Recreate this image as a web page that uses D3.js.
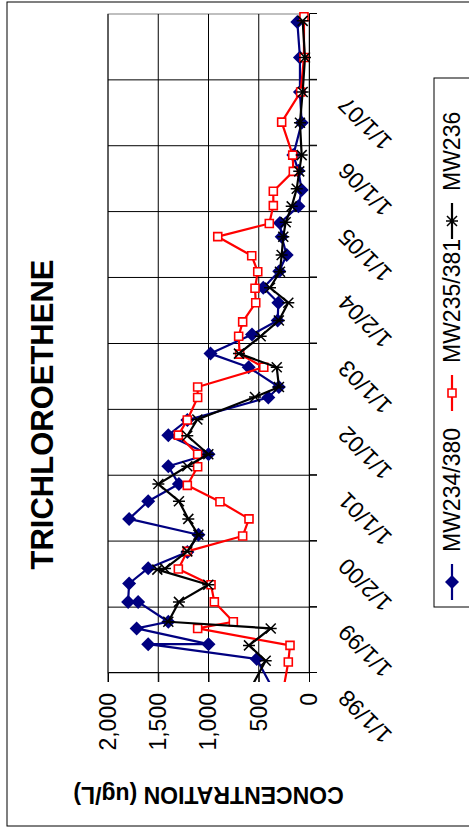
<!DOCTYPE html>
<html>
<head>
<meta charset="utf-8">
<script src="https://cdn.jsdelivr.net/npm/d3@7"></script>
<style>
  body { margin: 0; background: #fff; }
  svg { display: block; }
</style>
</head>
<body>
<svg width="469" height="829"></svg>
<script>
const dateTicks = ['1/1/98', '1/1/99', '1/2/00', '1/1/01', '1/1/02', '1/1/03', '1/2/04', '1/1/05', '1/1/06', '1/1/07']
const dateMax = '1/1/08'
const valueTicks = [0, 500, 1000, 1500, 2000]
const seriesNames = ['MW234/380', 'MW235/381', 'MW236']

const mw234 = [
  ['1997-10-08', 363], ['1998-03-20', 520], ['1998-06-10', 1600], ['1998-06-10', 1000],
  ['1998-09-05', 1715], ['1998-10-12', 1400], ['1999-01-30', 1700], ['1999-01-30', 1800],
  ['1999-05-12', 1790], ['1999-08-05', 1600], ['1999-11-03', 1210], ['2000-02-06', 1100],
  ['2000-05-04', 1790], ['2000-08-10', 1600], ['2000-11-13', 1295], ['2001-02-20', 1400],
  ['2001-04-27', 1000], ['2001-08-11', 1400], ['2001-11-03', 1210], ['2002-03-08', 405],
  ['2002-05-05', 300], ['2002-08-22', 600], ['2002-11-06', 980], ['2003-02-20', 567],
  ['2003-05-08', 312], ['2003-08-15', 305], ['2003-11-06', 455], ['2004-02-06', 296],
  ['2004-05-05', 222], ['2004-08-15', 272], ['2004-10-30', 289], ['2005-01-30', 105],
  ['2005-05-01', 73], ['2005-08-15', 106], ['2005-11-10', 156], ['2006-05-08', 73],
  ['2006-10-26', 90], ['2007-05-05', 90], ['2007-11-17', 116]
]
const mw235 = [
  ['1997-10-08', 253], ['1998-03-03', 206], ['1998-06-03', 189], ['1998-09-05', 1108],
  ['1998-10-12', 753], ['1999-01-30', 942], ['1999-05-05', 975], ['1999-07-31', 1300],
  ['1999-11-06', 1211], ['2000-01-30', 660], ['2000-05-04', 597], ['2000-08-07', 886],
  ['2000-11-06', 1211], ['2001-02-17', 1108], ['2001-04-27', 1108], ['2001-08-11', 1300],
  ['2001-11-03', 1211], ['2002-03-08', 1108], ['2002-05-05', 1108], ['2002-08-22', 450],
  ['2002-11-03', 690], ['2003-02-10', 700], ['2003-05-01', 660], ['2003-08-15', 530],
  ['2003-11-03', 537], ['2004-02-03', 510], ['2004-05-01', 570], ['2004-08-15', 908],
  ['2004-10-27', 395], ['2005-02-03', 355], ['2005-04-24', 355], ['2005-08-12', 156],
  ['2005-11-10', 162], ['2006-05-12', 272], ['2006-10-26', 83], ['2007-05-05', 50],
  ['2007-12-17', 50]
]
const mw236 = [
  ['1997-10-08', 580], ['1998-03-10', 431], ['1998-06-03', 597], ['1998-09-05', 381],
  ['1998-10-12', 1400], ['1999-01-30', 1294], ['1999-05-05', 1002], ['1999-07-28', 1509],
  ['1999-08-03', 1433], ['1999-11-06', 1211], ['2000-02-06', 1101], ['2000-05-04', 1201],
  ['2000-08-10', 1294], ['2000-11-13', 1499], ['2001-02-20', 1211], ['2001-04-27', 1002],
  ['2001-08-08', 1211], ['2001-11-06', 1111], ['2002-03-10', 537], ['2002-05-05', 299],
  ['2002-08-22', 321], ['2002-11-06', 697], ['2003-02-10', 481], ['2003-05-08', 300],
  ['2003-08-15', 206], ['2003-11-06', 388], ['2004-02-03', 289], ['2004-05-05', 272],
  ['2004-08-15', 256], ['2004-11-03', 232], ['2005-01-30', 172], ['2005-05-08', 122],
  ['2005-08-12', 97], ['2005-11-10', 73], ['2006-05-08', 90], ['2006-10-26', 63],
  ['2007-05-05', 40], ['2007-11-24', 63]
]

const font = "'Liberation Sans', Arial, sans-serif"
// the chart is drawn landscape (829 x 469) and turned a quarter to the left
const W = 829
const plot = {left: 156, right: 815, top: 108, bottom: 309}

const parseTick = d3.timeParse('%m/%d/%y')
const parseDate = d3.timeParse('%Y-%m-%d')
const tickDates = dateTicks.map(parseTick)

const x = d3.scaleTime()
  .domain([tickDates[0], parseTick(dateMax)])
  .range([plot.left, plot.right])
const y = d3.scaleLinear()
  .domain([0, 2000])
  .range([plot.bottom, plot.top])

const svg = d3.select('svg')
const g = svg.append('g')
  .attr('transform', 'translate(0,' + W + ') rotate(-90)')

g.append('rect')
  .attr('x', 3).attr('y', 7)
  .attr('width', 824).attr('height', 480)
  .attr('fill', '#fff')
  .attr('stroke', '#000')

g.append('rect')
  .attr('x', plot.left).attr('y', plot.top)
  .attr('width', plot.right - plot.left).attr('height', plot.bottom - plot.top)
  .attr('fill', '#fff')
  .attr('stroke', '#808080')

// gridlines
g.append('g')
  .selectAll('line')
  .data(valueTicks.slice(1))
  .enter().append('line')
  .attr('x1', plot.left - 9).attr('x2', plot.right)
  .attr('y1', d => y(d)).attr('y2', d => y(d))
  .attr('stroke', '#000')
g.append('g')
  .selectAll('line')
  .data(tickDates.slice(1))
  .enter().append('line')
  .attr('x1', d => x(d)).attr('x2', d => x(d))
  .attr('y1', plot.top).attr('y2', plot.bottom + 8)
  .attr('stroke', '#000')

// value axis
const yAxis = g.append('g')
  .attr('transform', 'translate(' + plot.left + ',0)')
  .call(d3.axisLeft(y).tickValues(valueTicks).tickSize(9).tickPadding(11).tickFormat(d3.format(',')))
yAxis.select('.domain').attr('stroke', '#000')
yAxis.selectAll('text')
  .style('font', '23px ' + font)
  .attr('fill', '#000')

// date axis
const xAxis = g.append('g')
  .attr('transform', 'translate(0,' + plot.bottom + ')')
  .call(d3.axisBottom(x).tickValues(tickDates).tickSize(8).tickFormat((d, i) => dateTicks[i]))
xAxis.select('.domain').attr('stroke', '#000')
xAxis.selectAll('text')
  .attr('x', 0).attr('y', 0).attr('dy', 0)
  .attr('text-anchor', 'end')
  .attr('transform', 'translate(-16,39) rotate(-45)')
  .style('font', '23px ' + font)
  .attr('fill', '#000')

// titles
g.append('text')
  .attr('x', W / 2).attr('y', 53)
  .attr('text-anchor', 'middle')
  .style('font', 'bold 31px ' + font)
  .text('TRICHLOROETHENE')
g.append('text')
  .attr('transform', 'translate(42,' + (plot.top + plot.bottom) / 2 + ') rotate(-90)')
  .attr('text-anchor', 'middle')
  .style('font', 'bold 23px ' + font)
  .text('CONCENTRATION (ug/L)')

// series
const diamond = d3.symbol(d3.symbolSquare, 98)()
const square = d3.symbol(d3.symbolSquare, 64)()
const star = 'M-5,-5L5,5M-5,5L5,-5M0,-6L0,6'
const series = [
  {name: seriesNames[0], data: mw234, color: '#000080'},
  {name: seriesNames[1], data: mw235, color: '#ff0000'},
  {name: seriesNames[2], data: mw236, color: '#000000'}
].map(s => ({...s, values: s.data.map(d => ({date: parseDate(d[0]), value: d[1]}))}))

const drawMarker = (sel, i, color) => {
  if (i === 0) {
    sel.append('path').attr('d', diamond).attr('transform', 'rotate(45)').attr('fill', color)
  } else if (i === 1) {
    sel.append('path').attr('d', square).attr('fill', '#fff').attr('stroke', color).attr('stroke-width', 1.6)
  } else {
    sel.append('path').attr('d', star).attr('fill', 'none').attr('stroke', color).attr('stroke-width', 1.5)
  }
}

g.append('clipPath').attr('id', 'clip')
  .append('rect')
  .attr('x', plot.left - 9).attr('y', 0)
  .attr('width', W).attr('height', 469)

const line = d3.line()
  .x(d => x(d.date))
  .y(d => y(d.value))

series.forEach((s, i) => {
  const sg = g.append('g').attr('clip-path', 'url(#clip)')
  sg.append('path')
    .attr('d', line(s.values))
    .attr('fill', 'none')
    .attr('stroke', s.color)
    .attr('stroke-width', 2.2)
    .attr('stroke-linejoin', 'round')
  sg.selectAll('.pt')
    .data(s.values.filter(d => d.date >= x.domain()[0]))
    .enter().append('g')
    .attr('class', 'pt')
    .attr('transform', d => 'translate(' + x(d.date) + ',' + y(d.value) + ')')
    .each(function () { drawMarker(d3.select(this), i, s.color) })
})

// legend
const legendX = [229, 418, 590]
const legend = g.append('g')
legend.append('rect')
  .attr('x', 222).attr('y', 434)
  .attr('width', 529).attr('height', 50)
  .attr('fill', '#fff')
  .attr('stroke', '#000')
series.forEach((s, i) => {
  const item = legend.append('g').attr('transform', 'translate(' + legendX[i] + ',452)')
  item.append('line')
    .attr('x1', 0).attr('x2', 36)
    .attr('stroke', s.color).attr('stroke-width', 2.2)
  drawMarker(item.append('g').attr('transform', 'translate(18,0)'), i, s.color)
  item.append('text')
    .attr('x', 48).attr('dy', '0.35em')
    .style('font', '23px ' + font)
    .text(s.name)
})
</script>
</body>
</html>
